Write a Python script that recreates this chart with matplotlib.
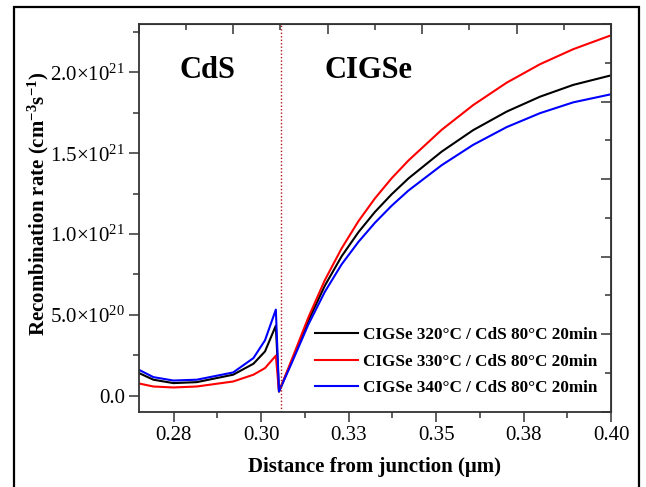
import numpy as np
import matplotlib
matplotlib.use("Agg")
import matplotlib.pyplot as plt
from matplotlib.patches import Rectangle

plt.rcParams['font.family'] = ['Liberation Serif', 'DejaVu Serif']
plt.rcParams['mathtext.fontset'] = 'custom'
plt.rcParams['mathtext.rm'] = 'Liberation Serif'
plt.rcParams['mathtext.it'] = 'Liberation Serif:italic'
plt.rcParams['mathtext.bf'] = 'Liberation Serif:bold'

# ---- data -------------------------------------------------------------
# CdS side of the junction
x_cds = [0.2650, 0.2692, 0.2749, 0.2816, 0.2920, 0.2978, 0.3011, 0.3042, 0.3051]
cds_320 = [1.40e20, 0.98e20, 0.77e20, 0.83e20, 1.29e20, 1.97e20, 2.73e20, 4.33e20, 0.25e20]
cds_330 = [0.75e20, 0.56e20, 0.50e20, 0.56e20, 0.87e20, 1.29e20, 1.70e20, 2.47e20, 0.25e20]
cds_340 = [1.60e20, 1.14e20, 0.93e20, 0.98e20, 1.43e20, 2.32e20, 3.42e20, 5.32e20, 0.25e20]

# CIGSe side of the junction
x_cigse = [0.3087, 0.3135, 0.3182, 0.3230, 0.3278, 0.3325, 0.3373, 0.3421, 0.3516,
           0.3606, 0.3702, 0.3797, 0.3892, 0.4000]
cigse_320 = [2.10e20, 4.64e20, 6.80e20, 8.62e20, 1.011e21, 1.136e21, 1.246e21, 1.344e21,
             1.510e21, 1.643e21, 1.758e21, 1.850e21, 1.923e21, 1.982e21]
cigse_330 = [2.20e20, 4.84e20, 7.14e20, 9.11e20, 1.079e21, 1.220e21, 1.345e21, 1.455e21,
             1.645e21, 1.798e21, 1.937e21, 2.051e21, 2.144e21, 2.230e21]
cigse_340 = [2.00e20, 4.40e20, 6.42e20, 8.12e20, 0.951e21, 1.069e21, 1.175e21, 1.269e21,
             1.426e21, 1.552e21, 1.662e21, 1.748e21, 1.815e21, 1.865e21]

junction_x = 0.3057

labels = ['CIGSe 320°C / CdS 80°C 20min',
          'CIGSe 330°C / CdS 80°C 20min',
          'CIGSe 340°C / CdS 80°C 20min']
colors = ['black', '#ff0000', '#0000ff']

x_ticks = [0.275, 0.300, 0.325, 0.350, 0.375, 0.400]
x_tick_labels = ['0.28', '0.30', '0.33', '0.35', '0.38', '0.40']
y_ticks = [0.0, 5.0e20, 1.0e21, 1.5e21, 2.0e21]
y_tick_labels = ['0.0', '5.0×10$^{20}$', '1.0×10$^{21}$', '1.5×10$^{21}$', '2.0×10$^{21}$']

xlim = (0.265, 0.400)
ylim = (-1.0e20, 2.3e21)

# ---- figure -----------------------------------------------------------
W, H = 646, 487
fig = plt.figure(figsize=(W / 100, H / 100), dpi=100)

# outer frame around the whole plot
fig.patches.append(Rectangle((14 / W, -0.05), (639 - 14) / W, 1.05 - 7 / H,
                             transform=fig.transFigure, fill=False,
                             edgecolor='black', linewidth=1.6))

ax = fig.add_axes([138.7 / W, 1 - 411.7 / H, (611 - 138.7) / W, (411.7 - 24) / H])

series = [(cds_320, cigse_320), (cds_330, cigse_330), (cds_340, cigse_340)]
for (yc, yg), lab, col in zip(series, labels, colors):
    ax.plot(x_cds + x_cigse, yc + yg, color=col, lw=1.5, label=lab)

ax.axvline(junction_x, color='#b01818', lw=1.0, ls=(0, (1, 1.5)))

ax.set_xlim(*xlim)
ax.set_ylim(*ylim)

ax.set_xticks(x_ticks)
ax.set_xticklabels(x_tick_labels)
ax.set_xticks(np.arange(0.2875, 0.40, 0.025), minor=True)
ax.set_yticks(y_ticks)
ax.set_yticklabels(y_tick_labels)
ax.set_yticks([2.5e20, 7.5e20, 1.25e21, 1.75e21, 2.25e21], minor=True)

axis_col = '#333333'
for s in ax.spines.values():
    s.set_color(axis_col)
    s.set_linewidth(1.3)
ax.tick_params(which='both', direction='out', color=axis_col, top=False, right=False,
               labelsize=15, width=1.1)
ax.tick_params(which='major', length=7, pad=3)
ax.tick_params(which='minor', length=4)

# top and right axes carry their own inward ticks (ten divisions)
top = ax.secondary_xaxis('top')
tdiv = np.linspace(xlim[0], xlim[1], 11)
top.set_xticks(tdiv[::2])
top.set_xticks(tdiv[1::2], minor=True)
top.tick_params(which='both', direction='in', labeltop=False, color=axis_col, width=1.1)
top.tick_params(which='major', length=7)
top.tick_params(which='minor', length=4)
top.spines['top'].set_color(axis_col)

right = ax.secondary_yaxis('right')
rdiv = np.linspace(ylim[0], ylim[1], 11)
right.set_yticks(rdiv[::2])
right.set_yticks(rdiv[1::2], minor=True)
right.tick_params(which='both', direction='in', labelright=False, color=axis_col, width=1.1)
right.tick_params(which='major', length=7)
right.tick_params(which='minor', length=4)
right.spines['right'].set_color(axis_col)

fig.text(375 / W, 1 - 467 / H, 'Distance from junction (μm)', ha='center', va='center',
         fontsize=15, fontweight='bold')
fig.text(38 / W, 1 - 204 / H, r'Recombination rate (cm$^{\mathbf{-3}}$s$^{\mathbf{-1}}$)',
         ha='center', va='center', rotation=90, fontsize=15, fontweight='bold')

fig.text(207 / W, 1 - 71 / H, 'CdS', ha='center', va='center', fontsize=22, fontweight='bold')
fig.text(368 / W, 1 - 71 / H, 'CIGSe', ha='center', va='center', fontsize=22, fontweight='bold')

leg = ax.legend(loc='center left', bbox_to_anchor=(0.373, 0.129), frameon=False,
                prop={'family': 'Liberation Serif', 'weight': 'bold', 'size': 12.3},
                handlelength=2.5, handletextpad=0.3, labelspacing=0.62,
                borderpad=0, borderaxespad=0)

fig.savefig('out.png', dpi=100)
